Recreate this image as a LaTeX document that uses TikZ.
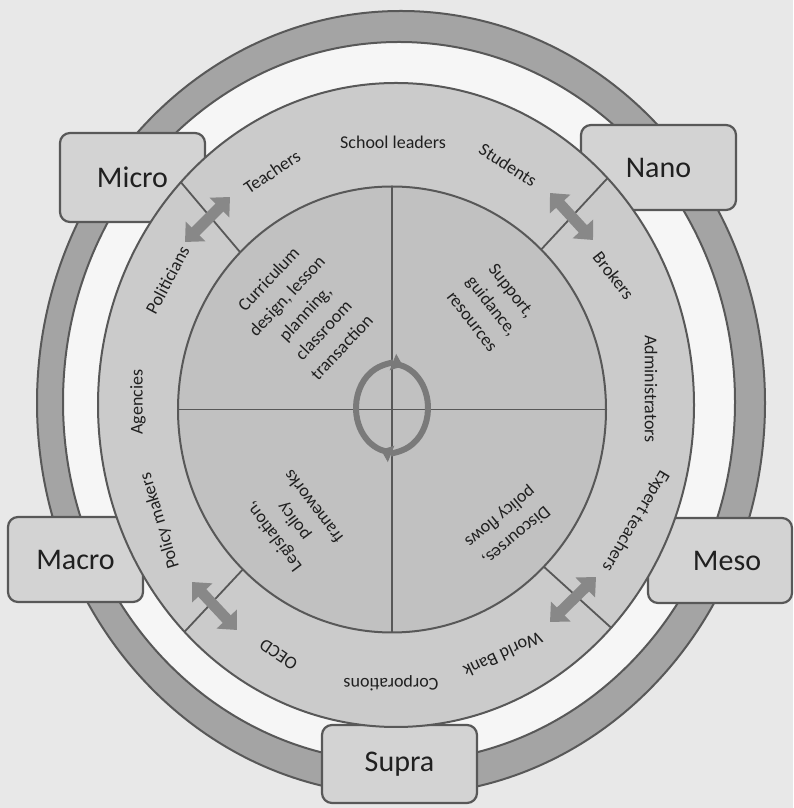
\documentclass[tikz,border=0pt]{standalone}
\usepackage{fontspec}
\setmainfont{Carlito}
\usetikzlibrary{shapes.geometric,arrows.meta}
\definecolor{paper}{HTML}{E8E8E8}
\definecolor{gapwhite}{HTML}{F6F6F6}
\definecolor{ringgray}{HTML}{A4A4A4}
\definecolor{bandgray}{HTML}{CBCBCB}
\definecolor{coregray}{HTML}{C1C1C1}
\definecolor{boxgray}{HTML}{D3D3D3}
\definecolor{edgegray}{HTML}{585858}
\definecolor{arrowgray}{HTML}{888888}
\definecolor{inkgray}{HTML}{202020}
\begin{document}
\begin{tikzpicture}[x=1pt,y=1pt,
  ring/.style={ellipse,draw=edgegray,line width=2pt,inner sep=0pt,outer sep=0pt},
  levelbox/.style={draw=edgegray,line width=2.2pt,fill=boxgray,rounded corners=10pt,
    inner sep=0pt,font=\fontsize{30}{36}\selectfont,text=inkgray},
  actor/.style={font=\fontsize{18}{22}\selectfont,text=inkgray,inner sep=0pt},
  theme/.style={font=\fontsize{18}{25}\selectfont,text=inkgray,align=center,inner sep=0pt},
  divider/.style={draw=edgegray,line width=1.8pt},
  dblarrow/.style={draw=arrowgray,line width=11pt,
    arrows={Triangle[width=27pt,length=15pt]-Triangle[width=27pt,length=15pt]}},
  cyclearrow/.style={draw=arrowgray!90!black,line width=6pt,-{Triangle[width=17pt,length=11pt]}}]
\useasboundingbox (0,0) rectangle (793,808);
\fill[paper] (0,0) rectangle (793,808);
% outer ring
\node[ring,fill=ringgray,minimum width=728pt,minimum height=784pt] (outer) at (401,405) {};
\node[ring,fill=gapwhite,minimum width=672pt,minimum height=720pt] (gap) at (399,406) {};
% levels
\node[levelbox,minimum width=145pt,minimum height=89pt] (micro) at (132.5,630.5) {Micro};
\node[levelbox,minimum width=155pt,minimum height=85pt] (nano) at (658.5,640.5) {Nano};
\node[levelbox,minimum width=135pt,minimum height=85pt] (macro) at (75.5,248.5) {Macro};
\node[levelbox,minimum width=144pt,minimum height=85pt] (meso) at (720,247.5) {\hspace*{14pt}Meso};
\node[levelbox,minimum width=155pt,minimum height=78pt] (supra) at (399.5,44) {Supra};
% actors band and core
\node[ring,fill=bandgray,minimum width=596pt,minimum height=644pt] (band) at (396,403) {};
\node[ring,fill=coregray,minimum width=428pt,minimum height=446pt] (core) at (392,398.5) {};
\draw[divider] (core.north) -- (core.south);
\draw[divider] (core.west) -- (core.east);
\foreach \a in {47,134,227,314}
  \draw[divider] (core.\a) -- (band.\a);
% exchange arrows
\coordinate (nwa) at (185,566);
\coordinate (nwb) at (230,611);
\coordinate (nea) at (550,615);
\coordinate (neb) at (593,568);
\coordinate (swa) at (192,226);
\coordinate (swb) at (237,178);
\coordinate (sea) at (550,186);
\coordinate (seb) at (596,231);
\draw[dblarrow] (nwa) -- (nwb);
\draw[dblarrow] (nea) -- (neb);
\draw[dblarrow] (swa) -- (swb);
\draw[dblarrow] (sea) -- (seb);
% cycle in the middle
\coordinate (hub) at (392,400);
\draw[cyclearrow] (hub) ++(268:36pt and 44pt) arc[start angle=268,end angle=72,x radius=36pt,y radius=44pt];
\draw[cyclearrow] (hub) ++(88:36pt and 44pt) arc[start angle=88,end angle=-108,x radius=36pt,y radius=44pt];
% actors
\node[actor] (leaders) at (393,666) {School leaders};
\node[actor,rotate=34] (teachers) at (272,636) {Teachers};
\node[actor,rotate=-33] (students) at (508,643) {Students};
\node[actor,rotate=62] (politicians) at (167.5,528) {Politicians};
\node[actor,rotate=-52] (brokers) at (613.5,532.5) {Brokers};
\node[actor,rotate=90] (agencies) at (138,406) {Agencies};
\node[actor,rotate=-90] (admins) at (651,419) {Administrators};
\node[actor,rotate=107] (makers) at (160,287) {Policy makers};
\node[actor,rotate=-121] (experts) at (635.5,287) {Expert teachers};
\node[actor,rotate=146] (oecd) at (278.5,153.5) {OECD};
\node[actor,rotate=-155] (worldbank) at (503,153) {World Bank};
\node[actor,rotate=180] (corps) at (391,125) {Corporations};
% themes
\node[theme,rotate=47] (curric) at (305,495) {Curriculum\\design, lesson\\planning,\\classroom\\transaction};
\node[theme,rotate=-52] (support) at (492,502) {Support,\\guidance,\\resources};
\node[theme,rotate=127] (legis) at (293,286) {Legislation,\\policy\\frameworks};
\node[theme,rotate=-140] (discourse) at (508,282) {Discourses,\\policy flows};
\end{tikzpicture}
\end{document}
